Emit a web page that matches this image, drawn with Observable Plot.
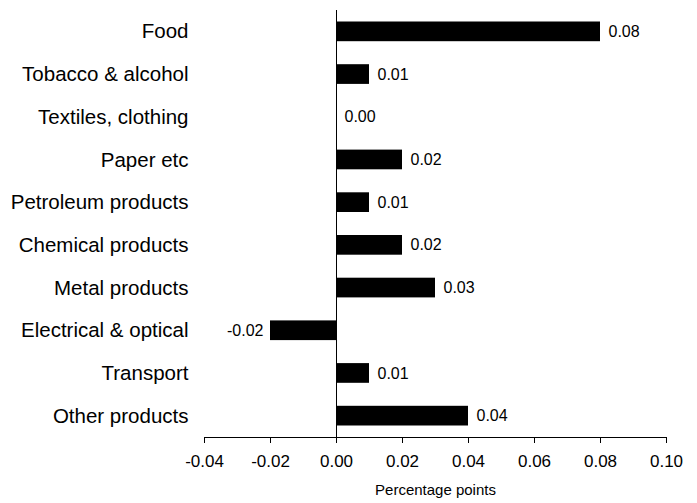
<!DOCTYPE html>
<html><head><meta charset="utf-8">
<script src="https://cdn.jsdelivr.net/npm/d3@7"></script>
<script src="https://cdn.jsdelivr.net/npm/@observablehq/plot@0.6"></script>
<style>
body{margin:0;background:#fff;font-family:"Liberation Sans",Arial,sans-serif;}
</style></head><body>
<div id="chart"></div>
<script>
const categories = ["Food","Tobacco & alcohol","Textiles, clothing","Paper etc","Petroleum products","Chemical products","Metal products","Electrical & optical","Transport","Other products"];
const values = [0.08,0.01,0.00,0.02,0.01,0.02,0.03,-0.02,0.01,0.04];
const xTicks = [-0.04,-0.02,0,0.02,0.04,0.06,0.08,0.10];
const data = categories.map((c,i)=>({category:c,value:values[i]}));
const fmt = d => d.toFixed(2);

const chart = Plot.plot({
  width: 697, height: 503,
  marginTop: 10, marginBottom: 66, marginLeft: 204, marginRight: 31,
  style: {fontFamily: '"Liberation Sans", Arial, sans-serif', color: "#000", background: "#fff", overflow: "visible"},
  x: {domain: [-0.04, 0.10], ticks: xTicks, tickFormat: fmt, label: null},
  y: {domain: categories, padding: 0, round: false, label: null},
  marks: [
    Plot.barX(data, {x: "value", y: "category", fill: "#000", insetTop: 11.5, insetBottom: 11.5}),
    Plot.ruleX([0], {stroke: "#000", strokeWidth: 1}),
    Plot.frame({anchor: "bottom", stroke: "#000"}),
    Plot.text(data.filter(d=>d.value>=0), {x: "value", y: "category", text: d=>fmt(d.value), textAnchor: "start", dx: 8, fontSize: 16, fill: "#000"}),
    Plot.text(data.filter(d=>d.value<0), {x: "value", y: "category", text: d=>fmt(d.value), textAnchor: "end", dx: -7, fontSize: 16, fill: "#000"}),
    Plot.axisX({ticks: xTicks, tickFormat: fmt, tickSize: 6, tickPadding: 11, fontSize: 17, label: null}),
    Plot.axisY({tickSize: 0, tickPadding: 16, fontSize: 20.5, label: null}),
    Plot.text(["Percentage points"], {frameAnchor: "bottom", dy: 57, fontSize: 15, fill: "#000"})
  ]
});
document.getElementById("chart").appendChild(chart);
</script>
</body></html>
